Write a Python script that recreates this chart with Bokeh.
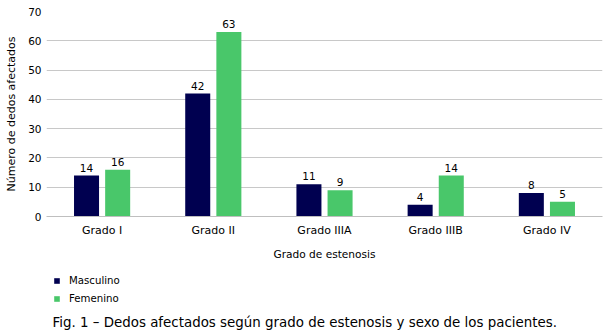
from bokeh.plotting import figure
from bokeh.models import ColumnDataSource, FactorRange, Range1d, Legend, LegendItem, Label, LabelSet
from bokeh.core.properties import value
from bokeh.layouts import column
from bokeh.transform import dodge
from bokeh.embed import file_html
from bokeh.resources import INLINE

categories = ["Grado I", "Grado II", "Grado IIIA", "Grado IIIB", "Grado IV"]
masculino = [14, 42, 11, 4, 8]
femenino = [16, 63, 9, 14, 5]
series_names = ["Masculino", "Femenino"]
y_ticks = [0, 10, 20, 30, 40, 50, 60, 70]
caption = "Fig. 1 – Dedos afectados según grado de estenosis y sexo de los pacientes."

FONT = "DejaVu Sans"
NAVY = "#000050"
GREEN = "#49C76A"

src = ColumnDataSource(dict(cat=categories, m=masculino, f=femenino,
                            ml=[str(v) for v in masculino], fl=[str(v) for v in femenino]))

p = figure(width=603, height=262, x_range=FactorRange(*categories, range_padding=0),
           y_range=Range1d(0, 70), output_backend="svg", toolbar_location=None,
           min_border_left=46, min_border_right=1, min_border_top=11, min_border_bottom=46)
p.outline_line_color = None

r1 = p.vbar(x=dodge("cat", -0.14, range=p.x_range), top="m", width=0.225, source=src,
            fill_color=NAVY, line_color=None)
r2 = p.vbar(x=dodge("cat", 0.14, range=p.x_range), top="f", width=0.225, source=src,
            fill_color=GREEN, line_color=None)

for col, lab, off in (("m", "ml", -0.14), ("f", "fl", 0.14)):
    ls = LabelSet(x=dodge("cat", off, range=p.x_range), y=col, text=lab, source=src,
                  text_align="center", text_baseline="bottom", y_offset=4,
                  text_font=value(FONT), text_font_size=value("10.5px"),
                  text_color="#000000")
    p.add_layout(ls)

p.yaxis.ticker = y_ticks
p.yaxis.axis_line_color = None
p.yaxis.major_tick_line_color = None
p.yaxis.major_tick_out = 0
p.yaxis.major_tick_in = 0
p.yaxis.minor_tick_line_color = None
p.yaxis.major_label_text_font = FONT
p.yaxis.major_label_text_font_size = "10.5px"
p.yaxis.major_label_text_color = "#000000"
p.yaxis.major_label_standoff = 5
p.yaxis.axis_label = "Número de dedos afectados"
p.yaxis.axis_label_text_font = FONT
p.yaxis.axis_label_text_font_size = "11px"
p.yaxis.axis_label_text_font_style = "normal"
p.yaxis.axis_label_text_color = "#000000"
p.yaxis.axis_label_standoff = 7

p.xaxis.axis_line_color = "#BFBFBF"
p.xaxis.major_tick_line_color = None
p.xaxis.major_tick_out = 0
p.xaxis.major_tick_in = 0
p.xaxis.minor_tick_line_color = None
p.xaxis.major_label_text_font = FONT
p.xaxis.major_label_text_font_size = "11px"
p.xaxis.major_label_text_color = "#000000"
p.xaxis.major_label_standoff = 7
p.xaxis.axis_label = "Grado de estenosis"
p.xaxis.axis_label_text_font = FONT
p.xaxis.axis_label_text_font_size = "10.6px"
p.xaxis.axis_label_text_font_style = "normal"
p.xaxis.axis_label_text_color = "#000000"
p.xaxis.axis_label_standoff = 8

p.xgrid.grid_line_color = None
p.ygrid.grid_line_color = "#C8C8C8"

# lower strip: legend and caption (series drawn out of view so the legend has glyphs)
p2 = figure(width=603, height=71, x_range=FactorRange(*categories),
            y_range=Range1d(1000, 1001), output_backend="svg", toolbar_location=None,
            min_border=0)
p2.outline_line_color = None
p2.axis.visible = False
p2.grid.visible = False
e1 = p2.vbar(x="cat", top="m", width=0.2, source=src, fill_color=NAVY, line_color=None)
e2 = p2.vbar(x="cat", top="f", width=0.2, source=src, fill_color=GREEN, line_color=None)

legend = Legend(items=[LegendItem(label=series_names[0], renderers=[e1]),
                       LegendItem(label=series_names[1], renderers=[e2])],
                orientation="vertical", location=(7, 28),
                glyph_width=7, glyph_height=7, label_text_font=FONT,
                label_text_font_size="10.2px", label_text_color="#000000",
                label_height=13, label_standoff=9,
                spacing=5, padding=0, margin=0, border_line_color=None,
                background_fill_alpha=0)
p2.add_layout(legend, "center")

cap = Label(x=6, y=11, x_units="screen", y_units="screen", text=caption,
            text_font=FONT, text_font_size="13.4px", text_baseline="middle",
            text_color="#000000")
p2.add_layout(cap)

open("out.html", "w").write(file_html(column(p, p2, spacing=0), INLINE))
